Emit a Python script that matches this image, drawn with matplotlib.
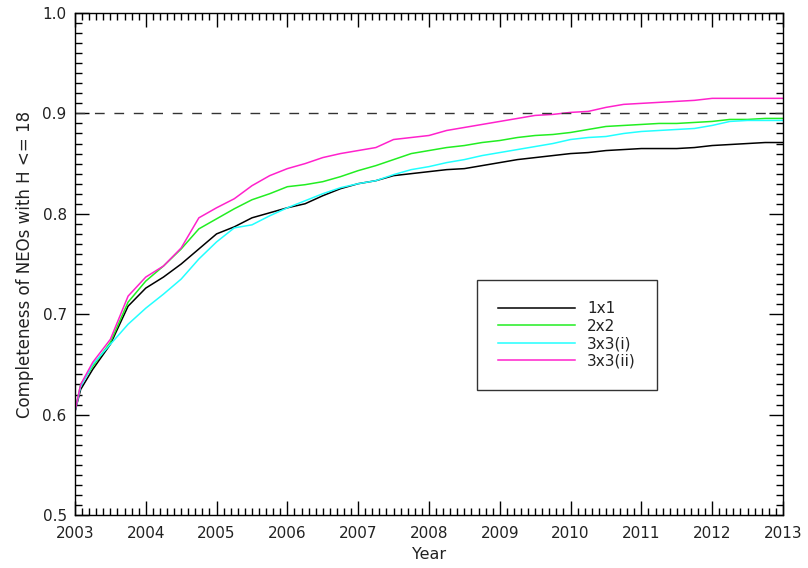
import numpy as np
import matplotlib
matplotlib.use("Agg")
import matplotlib.pyplot as plt
from matplotlib.ticker import MultipleLocator, FormatStrFormatter

years = [2003.0, 2003.08, 2003.25, 2003.5, 2003.75, 2004.0, 2004.25, 2004.5, 2004.75,
         2005.0, 2005.25, 2005.5, 2005.75, 2006.0, 2006.25, 2006.5, 2006.75,
         2007.0, 2007.25, 2007.5, 2007.75, 2008.0, 2008.25, 2008.5, 2008.75,
         2009.0, 2009.25, 2009.5, 2009.75, 2010.0, 2010.25, 2010.5, 2010.75,
         2011.0, 2011.25, 2011.5, 2011.75, 2012.0, 2012.25, 2012.5, 2012.75, 2013.0]

c_1x1 = [0.603, 0.625, 0.645, 0.670, 0.708, 0.726, 0.737, 0.750, 0.765,
         0.780, 0.787, 0.796, 0.801, 0.806, 0.810, 0.818, 0.825,
         0.830, 0.833, 0.838, 0.840, 0.842, 0.844, 0.845, 0.848,
         0.851, 0.854, 0.856, 0.858, 0.860, 0.861, 0.863, 0.864,
         0.865, 0.865, 0.865, 0.866, 0.868, 0.869, 0.870, 0.871, 0.871]

c_2x2 = [0.603, 0.630, 0.648, 0.672, 0.712, 0.733, 0.748, 0.765, 0.785,
         0.795, 0.805, 0.814, 0.820, 0.827, 0.829, 0.832, 0.837,
         0.843, 0.848, 0.854, 0.860, 0.863, 0.866, 0.868, 0.871,
         0.873, 0.876, 0.878, 0.879, 0.881, 0.884, 0.887, 0.888,
         0.889, 0.890, 0.890, 0.891, 0.892, 0.894, 0.894, 0.895, 0.895]

c_3x3i = [0.603, 0.628, 0.650, 0.670, 0.690, 0.706, 0.720, 0.735, 0.755,
          0.772, 0.786, 0.789, 0.798, 0.806, 0.813, 0.820, 0.826,
          0.830, 0.833, 0.839, 0.844, 0.847, 0.851, 0.854, 0.858,
          0.861, 0.864, 0.867, 0.870, 0.874, 0.876, 0.877, 0.880,
          0.882, 0.883, 0.884, 0.885, 0.888, 0.892, 0.893, 0.893, 0.893]

c_3x3ii = [0.603, 0.630, 0.652, 0.675, 0.718, 0.737, 0.748, 0.766, 0.796,
           0.806, 0.815, 0.828, 0.838, 0.845, 0.850, 0.856, 0.860,
           0.863, 0.866, 0.874, 0.876, 0.878, 0.883, 0.886, 0.889,
           0.892, 0.895, 0.898, 0.899, 0.901, 0.902, 0.906, 0.909,
           0.910, 0.911, 0.912, 0.913, 0.915, 0.915, 0.915, 0.915, 0.915]

labels = ["1x1", "2x2", "3x3(i)", "3x3(ii)"]
target = 0.9

txt = "#222222"

fig = plt.figure(figsize=(8.08, 5.68), dpi=100)
ax = fig.add_axes([0.0928, 0.0933, 0.8762, 0.8838])

ax.plot(years, c_1x1, color="black", lw=1.1, label=labels[0])
ax.plot(years, c_2x2, color="#22ee22", lw=1.1, label=labels[1])
ax.plot(years, c_3x3i, color="#22ffff", lw=1.1, label=labels[2])
ax.plot(years, c_3x3ii, color="#ff22cc", lw=1.1, label=labels[3])
ax.axhline(target, color="#333333", lw=1, dashes=(7, 7))

ax.set_xlim(2003, 2013)
ax.set_ylim(0.5, 1.0)
ax.xaxis.set_major_locator(MultipleLocator(1))
ax.xaxis.set_minor_locator(MultipleLocator(0.1))
ax.yaxis.set_major_locator(MultipleLocator(0.1))
ax.yaxis.set_minor_locator(MultipleLocator(0.01))
ax.yaxis.set_major_formatter(FormatStrFormatter("%.1f"))
ax.tick_params(which="both", direction="in", top=True, right=True, labelsize=11,
               color="black", labelcolor=txt)
ax.tick_params(which="major", length=10, width=1)
ax.tick_params(which="minor", length=5, width=1)
ax.tick_params(axis="x", which="major", pad=8)
ax.tick_params(axis="y", which="major", pad=6)
for s in ax.spines.values():
    s.set_linewidth(1)

ax.set_xlabel("Year", fontsize=11.5, labelpad=4, color=txt)
ax.set_ylabel("Completeness of NEOs with H <= 18", fontsize=12, labelpad=6, color=txt)

leg = ax.legend(loc="upper left", bbox_to_anchor=(0.568, 0.468), fontsize=11,
                handlelength=5.0, handletextpad=0.8, labelspacing=0.15,
                borderpad=1.4, borderaxespad=0, fancybox=False, frameon=True)
leg.get_frame().set_edgecolor("black")
leg.get_frame().set_linewidth(1)
for t in leg.get_texts():
    t.set_color(txt)

fig.savefig("out.png", dpi=100)
